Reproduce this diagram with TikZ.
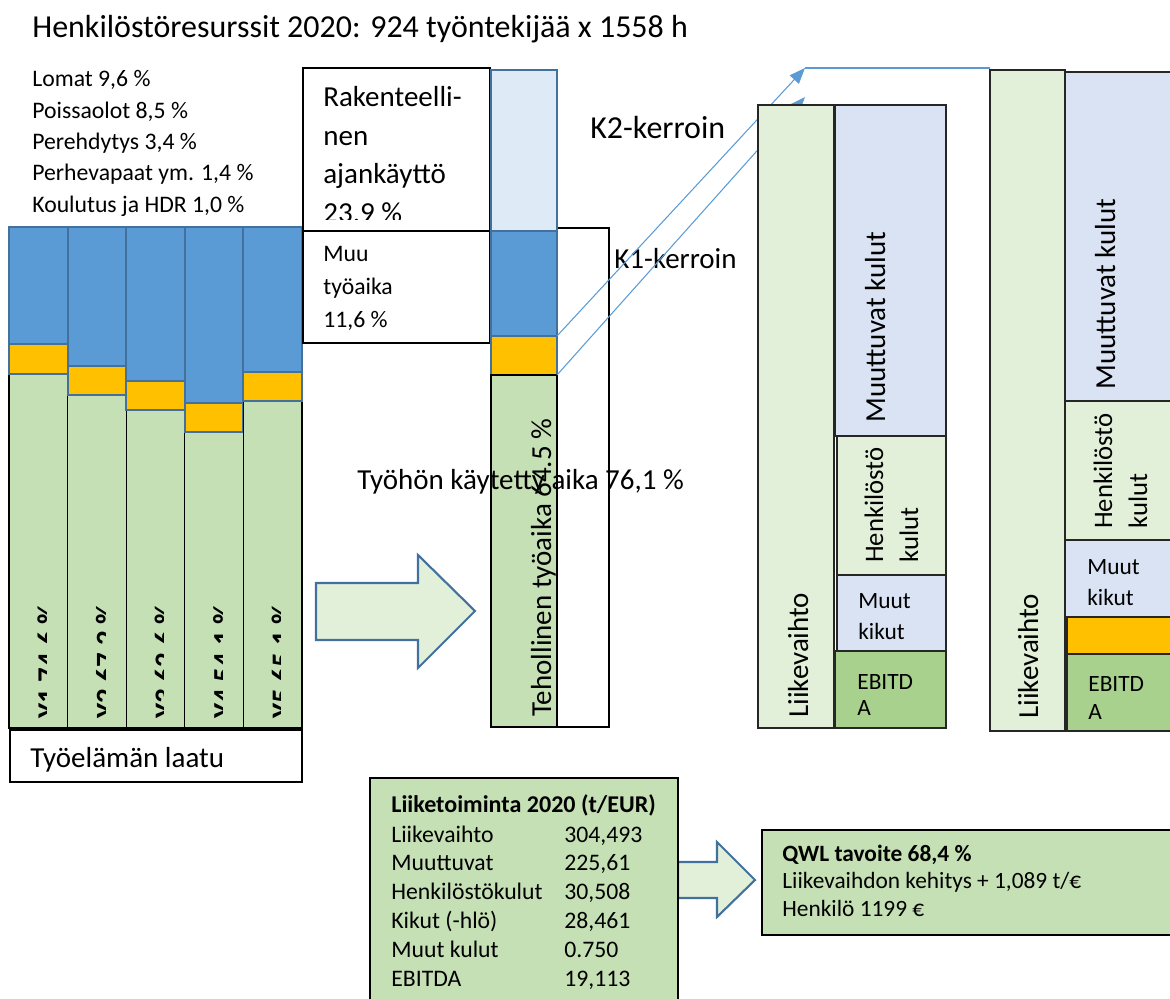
\documentclass[tikz,border=0pt]{standalone}
\usepackage{fontspec}
\setmainfont{Carlito}
\usetikzlibrary{arrows.meta}

\definecolor{barblue}{HTML}{5B9BD5}
\definecolor{edgeblue}{HTML}{41719C}
\definecolor{barorange}{HTML}{FFC000}
\definecolor{bargreen}{HTML}{C5E0B4}
\definecolor{paleblue}{HTML}{DEEBF7}
\definecolor{costblue}{HTML}{DAE3F3}
\definecolor{palegreen}{HTML}{E2F0D9}
\definecolor{ebitgreen}{HTML}{A9D18E}

\tikzset{
	bluepart/.style={fill=barblue, draw=edgeblue, line width=1.2pt},
	orangepart/.style={fill=barorange, draw=edgeblue, line width=1.2pt},
	greenpart/.style={fill=bargreen, draw=black, line width=0.6pt},
	whitebox/.style={fill=white, draw=black, line width=0.6pt},
	costbox/.style={draw=black!85, line width=0.8pt},
	bigtxt/.style={inner sep=0pt, font=\fontsize{16.5}{20}\selectfont},
	headtxt/.style={inner sep=0pt, font=\fontsize{18.2}{22}\selectfont},
	coltxt/.style={inner sep=0pt, font=\fontsize{16.5}{20}\selectfont\bfseries},
	smalltxt/.style={inner sep=0pt, font=\fontsize{13.5}{16}\selectfont},
	midtxt/.style={inner sep=0pt, font=\fontsize{13.3}{16}\selectfont},
	henktxt/.style={inner sep=0pt, font=\fontsize{15.2}{18}\selectfont},
	flowarrow/.style={fill=palegreen, draw=edgeblue, line width=1.2pt},
	kline/.style={draw=barblue, line width=0.6pt, -{Triangle[length=9pt,width=7pt]}},
}

\begin{document}
\begin{tikzpicture}[x=0.02cm, y=-0.02cm]
		%%%%% START %%%%%
		\useasboundingbox (0,0) rectangle (1170,999);
		\clip (0,0) rectangle (1170,999);
		
		\node[headtxt, anchor=base west] (title) at (32,38) {Henkilöstöresurssit 2020: 924 työntekijää x 1558 h};
		
		\foreach \txt [count=\i] in {{Lomat 9,6 \%},{Poissaolot 8,5 \%},{Perehdytys 3,4 \%},{Perhevapaat ym. 1,4 \%},{Koulutus ja HDR 1,0 \%}}
			\node[smalltxt, anchor=base west] (loss\i) at (32,{87+(\i-1)*31.3}) {\txt};
		
		% vuosien palkit
		\foreach \cx/\ot/\ob/\lab [count=\i] in {9/344/374/{Y1 74,6 \%}, 67.6/366/395/{Y2 67,2 \%}, 126.2/381/410/{Y3 62,6 \%}, 184.8/403/432/{Y4 54,1 \%}, 243.4/372/401/{Y5 65,1 \%}}
		{
			\draw[bluepart] (\cx,227) rectangle ({\cx+58.6},\ot);
			\draw[greenpart] (\cx,\ob) rectangle ({\cx+58.6},728);
			\draw[orangepart] (\cx,\ot) rectangle ({\cx+58.6},\ob);
			\begin{scope}
				\clip (\cx,560) rectangle ({\cx+37.5},727);
				\node[coltxt, rotate=90, anchor=north west] (year\i) at ({\cx+28},719) {\lab};
			\end{scope}
		}
		
		\draw[whitebox] (10,730) rectangle (302,782);
		\node[bigtxt, anchor=base west] (laatu) at (30,767) {Työelämän laatu};
		
		\draw[whitebox] (303,68) rectangle (490,231);
		\begin{scope}
			\clip (303,68) rectangle (490,220);
			\foreach \txt [count=\i] in {Rakenteelli-,nen,ajankäyttö,{23.9 \%}}
				\node[bigtxt, anchor=base west] (rak\i) at (323,{107+(\i-1)*38.5}) {\txt};
		\end{scope}
		
		\draw[whitebox] (303,231) rectangle (490,343);
		\foreach \txt [count=\i] in {Muu,työaika,{11,6 \%}}
			\node[smalltxt, anchor=base west] (muu\i) at (323,{262+(\i-1)*33}) {\txt};
		
		% keskipalkki
		\draw[whitebox] (557,228) rectangle (609,727);
		\draw[bluepart, fill=paleblue] (491,70) rectangle (557,231);
		\draw[bluepart] (491,231) rectangle (557,336);
		\draw[orangepart] (491,336) rectangle (557,375);
		\draw[greenpart] (491,375) rectangle (557,727);
		\begin{scope}
			\clip (491,375) rectangle (557,727);
			\node[bigtxt, rotate=90, anchor=base west] (teho) at (551,717) {Tehollinen työaika 64.5 \%};
		\end{scope}
		\node[bigtxt, anchor=base west] (tyohon) at (357,490) {Työhön käytetty aika 76,1 \%};
		
		\node[headtxt, anchor=base west] (k2) at (590,139) {K2-kerroin};
		\node[bigtxt, anchor=base west] (k1) at (614,269) {K1-kerroin};
		
		\coordinate (orangetop) at (557,336);
		\coordinate (orangebot) at (557,375);
		\coordinate (k2end) at (805,68);
		\coordinate (k1end) at (805,97);
		\coordinate (lvcorner) at (990,68);
		\draw[kline] (orangetop) -- (k2end);
		\draw[kline] (orangebot) -- (k1end);
		\draw[barblue, line width=0.6pt] (k2end) -- (lvcorner);
		
		% tuloslaskelma 1
		\draw[costbox, fill=palegreen] (758,105) rectangle (834,728);
		\draw[costbox, fill=costblue] (835,105) rectangle (946,436);
		\draw[costbox, fill=palegreen] (837,436) rectangle (946,575);
		\draw[costbox, fill=costblue] (837,575) rectangle (946,651);
		\draw[costbox, fill=ebitgreen] (835,651) rectangle (946,728);
		\node[bigtxt, rotate=90, anchor=base west] (lv1) at (808,718) {Liikevaihto};
		\node[bigtxt, rotate=90, anchor=base west] (mk1) at (885,423) {Muuttuvat kulut};
		\node[henktxt, rotate=90, anchor=base west] (hk1a) at (883,563) {Henkilöstö};
		\node[henktxt, rotate=90, anchor=base west] (hk1b) at (918,563) {kulut};
		\node[midtxt, anchor=base west] (mu1a) at (858,609) {Muut};
		\node[midtxt, anchor=base west] (mu1b) at (858,640) {kikut};
		\node[midtxt, anchor=base west] (eb1a) at (857,690) {EBITD};
		\node[midtxt, anchor=base west] (eb1b) at (857,716) {A};
		
		% tuloslaskelma 2
		\draw[costbox, fill=palegreen] (990,70) rectangle (1065,731);
		\draw[costbox, fill=costblue] (1065,72) rectangle (1180,401);
		\draw[costbox, fill=palegreen] (1065,401) rectangle (1180,540);
		\draw[costbox, fill=costblue] (1065,540) rectangle (1180,617);
		\draw[costbox, fill=barorange] (1067,617) rectangle (1180,654);
		\draw[costbox, fill=ebitgreen] (1067,654) rectangle (1180,731);
		\node[bigtxt, rotate=90, anchor=base west] (lv2) at (1038,719) {Liikevaihto};
		\node[bigtxt, rotate=90, anchor=base west] (mk2) at (1115,390) {Muuttuvat kulut};
		\node[henktxt, rotate=90, anchor=base west] (hk2a) at (1112,529) {Henkilöstö};
		\node[henktxt, rotate=90, anchor=base west] (hk2b) at (1147,529) {kulut};
		\node[midtxt, anchor=base west] (mu2a) at (1087,575) {Muut};
		\node[midtxt, anchor=base west] (mu2b) at (1087,606) {kikut};
		\node[midtxt, anchor=base west] (eb2a) at (1088,692) {EBITD};
		\node[midtxt, anchor=base west] (eb2b) at (1088,720) {A};
		
		% nuolet
		\draw[flowarrow] (316,583) -- (418,583) -- (418,555) -- (475,611) -- (418,668) -- (418,640) -- (316,640) -- cycle;
		\draw[flowarrow] (678,862) -- (717,862) -- (717,842) -- (755,880) -- (717,917) -- (717,898) -- (678,898) -- cycle;
		
		% liiketoiminta
		\draw[greenpart] (370,778) rectangle (678,1010);
		\node[midtxt, anchor=base west, font=\fontsize{13.7}{16}\selectfont\bfseries] (lthead) at (391,812) {Liiketoiminta 2020 (t/EUR)};
		\foreach \name/\val [count=\i] in {Liikevaihto/{304,493}, Muuttuvat/{225,61}, Henkilöstökulut/{30,508}, Kikut (-hlö)/{28,461}, Muut kulut/0.750, EBITDA/{19,113}}
		{
			\node[smalltxt, anchor=base west] (ltname\i) at (391,{842+(\i-1)*28.8}) {\name};
			\node[smalltxt, anchor=base west] (ltval\i) at (564,{842+(\i-1)*28.8}) {\val};
		}
		
		% tavoite
		\draw[greenpart] (762,830) rectangle (1180,935);
		\node[midtxt, anchor=base west, font=\fontsize{13.3}{16}\selectfont\bfseries] (qwl) at (782,861) {QWL tavoite 68,4 \%};
		\node[midtxt, anchor=base west] (kehitys) at (782,888) {Liikevaihdon kehitys + 1,089 t/€};
		\node[midtxt, anchor=base west] (henkilo) at (782,916) {Henkilö 1199 €};
		%%%%% END %%%%%
\end{tikzpicture}
\end{document}
